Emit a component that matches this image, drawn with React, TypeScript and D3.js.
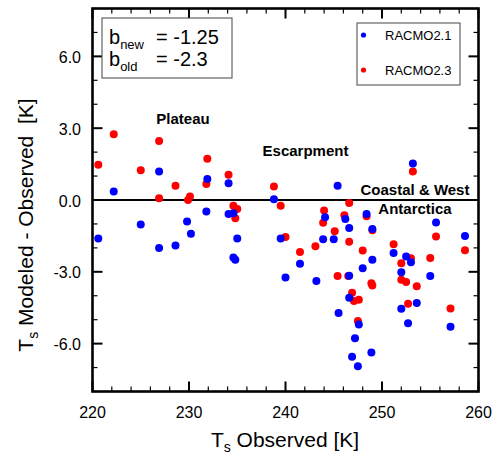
import React from "react";
import * as d3 from "d3";

const racmo21X = [220.6,222.2,225.0,226.9,226.9,228.6,229.8,230.2,231.9,231.8,234.1,234.1,234.6,235.0,234.6,234.8,238.8,239.5,241.5,240.0,243.2,244.1,243.9,245.0,245.4,246.2,246.6,246.6,248.4,249.0,248.0,249.0,246.6,245.5,247.6,247.2,246.9,248.9,247.5,251.2,252.5,253.0,252.0,252.0,253.6,252.7,253.2,255.0,255.6,258.6,257.1];
const racmo21Y = [-1.61,0.36,-1.02,1.19,-2.01,-1.90,-0.90,-1.41,0.88,-0.48,0.70,-0.59,-0.55,-1.61,-2.40,-2.50,0.03,-1.61,-2.66,-3.24,-3.38,-0.72,-1.64,-1.64,0.60,-0.79,-1.17,-3.16,-0.59,-1.21,-2.85,-2.50,-4.08,-4.72,-5.20,-5.78,-6.55,-6.37,-6.94,-2.21,-2.36,-2.60,-3.02,-4.54,-4.30,-5.15,1.53,-3.18,-0.94,-1.50,-5.30];

const racmo23X = [220.6,222.2,225.0,226.9,226.9,228.6,229.9,230.1,231.9,231.8,234.1,234.6,235.0,234.8,238.8,239.5,240.0,241.5,243.1,244.0,243.9,245.1,246.1,246.6,246.6,248.4,249.0,248.0,245.4,246.5,248.9,249.0,246.9,247.1,247.6,247.5,251.2,252.0,253.0,252.0,252.5,253.6,252.7,253.2,255.0,255.6,258.6,257.1];
const racmo23Y = [1.47,2.75,1.24,2.46,0.07,0.60,0.00,0.15,1.72,0.67,1.05,-0.24,-0.38,-0.76,0.56,-0.24,-1.55,-2.17,-1.93,-0.44,-0.95,-1.31,-0.64,-0.13,-1.74,-0.68,-1.26,-2.11,-3.17,-3.17,-3.48,-3.57,-3.87,-4.22,-4.17,-5.05,-1.85,-2.64,-2.43,-3.33,-3.43,-3.60,-4.33,1.19,-2.42,-1.52,-2.10,-4.53];

const xTickLabels = [220, 230, 240, 250, 260];
const yTickLabels = [-6, -3, 0, 3, 6];
const seriesNames = ["RACMO2.1", "RACMO2.3"];
const seriesColors = ["#0000ff", "#ff0000"];
const regionLabels = ["Plateau", "Escarpment", "Coastal & West", "Antarctica"];
const stats = [{ sub: "new", val: "= -1.25" }, { sub: "old", val: "= -2.3" }];

const FONT = "'Liberation Sans', Arial, Helvetica, sans-serif";

export default function App() {
  const x = d3.scaleLinear().domain([220, 260]).range([92.5, 478.5]);
  const y = d3.scaleLinear().domain([-8, 8]).range([391.5, 8.5]);
  const [x0, x1] = x.range();
  const [yb, yt] = y.range();

  const xMinor = d3.range(220, 260.01, 2);
  const yMinor = d3.range(-8, 8.01, 1);
  const isXMajor = (v: number) => Math.abs(v % 10) < 1e-6;
  const isYMajor = (v: number) => Math.abs(v % 3) < 1e-6;

  const red = racmo23X.map((v, i) => ({ x: v, y: racmo23Y[i] }));
  const blue = racmo21X.map((v, i) => ({ x: v, y: racmo21Y[i] }));

  return (
    <svg width={497} height={456} style={{ position: "absolute", left: 0, top: 0, background: "#fff" }} fontFamily={FONT}>
      <rect x={0} y={0} width={497} height={456} fill="#fff" />
      {/* zero line */}
      <line x1={x0} x2={x1} y1={y(0)} y2={y(0)} stroke="#000" strokeWidth={2.2} />
      {/* points */}
      {red.map((d, i) => (
        <circle key={"r" + i} cx={x(d.x)} cy={y(d.y)} r={4} fill={seriesColors[1]} />
      ))}
      {blue.map((d, i) => (
        <circle key={"b" + i} cx={x(d.x)} cy={y(d.y)} r={4} fill={seriesColors[0]} />
      ))}
      {/* ticks */}
      {xMinor.map((v) => {
        const L = isXMajor(v) ? 10 : 5;
        return (
          <g key={"xt" + v} stroke="#000" strokeWidth={1.5}>
            <line x1={x(v)} x2={x(v)} y1={yb} y2={yb - L} strokeWidth={isXMajor(v) ? 2 : 1.2} />
            <line x1={x(v)} x2={x(v)} y1={yt} y2={yt + L} strokeWidth={isXMajor(v) ? 2 : 1.2} />
          </g>
        );
      })}
      {yMinor.map((v) => {
        const L = isYMajor(v) ? 10 : 5;
        return (
          <g key={"yt" + v} stroke="#000">
            <line x1={x0} x2={x0 + L} y1={y(v)} y2={y(v)} strokeWidth={isYMajor(v) ? 2 : 1.2} />
            <line x1={x1} x2={x1 - L} y1={y(v)} y2={y(v)} strokeWidth={isYMajor(v) ? 2 : 1.2} />
          </g>
        );
      })}
      {/* frame */}
      <rect x={x0} y={yt} width={x1 - x0} height={yb - yt} fill="none" stroke="#000" strokeWidth={2.6} />
      {/* tick labels */}
      {xTickLabels.map((v) => (
        <text key={"xl" + v} x={x(v)} y={418} textAnchor="middle" fontSize={16} fill="#000">
          {v}
        </text>
      ))}
      {yTickLabels.map((v) => (
        <text key={"yl" + v} x={81} y={y(v) + 6.5} textAnchor="end" fontSize={16} fill="#000">
          {v.toFixed(1)}
        </text>
      ))}
      {/* axis titles */}
      <text x={285} y={447} textAnchor="middle" fontSize={21} fill="#000">
        T<tspan fontSize={14} dy={5}>s</tspan>
        <tspan dy={-5}> Observed [K]</tspan>
      </text>
      <text transform={`translate(33,225) rotate(-90)`} textAnchor="middle" fontSize={21} fill="#000">
        T<tspan fontSize={14} dy={5}>s</tspan>
        <tspan dy={-5} style={{ whiteSpace: "pre" }}> Modeled - Observed  [K]</tspan>
      </text>
      {/* stats box */}
      <rect x={102} y={18} width={130} height={60} fill="#fff" stroke="#444" strokeWidth={1} />
      {stats.map((s, i) => (
        <g key={"s" + i}>
          <text x={109} y={43.5 + i * 22} fontSize={20} fill="#000">
            b<tspan fontSize={13} dy={5}>{s.sub}</tspan>
          </text>
          <text x={156} y={43.5 + i * 22} fontSize={20} fill="#000">
            {s.val}
          </text>
        </g>
      ))}
      {/* legend */}
      <rect x={357} y={23} width={103} height={62} fill="#fff" stroke="#444" strokeWidth={1} />
      {seriesNames.map((n, i) => (
        <g key={"lg" + i}>
          <circle cx={363.5} cy={35 + i * 35} r={2.6} fill={seriesColors[i]} />
          <text x={385} y={40 + i * 35} fontSize={13} fill="#000">
            {n}
          </text>
        </g>
      ))}
      {/* region labels */}
      <text x={183} y={123.5} textAnchor="middle" fontSize={15} fontWeight="bold" fill="#000">{regionLabels[0]}</text>
      <text x={305.5} y={155.5} textAnchor="middle" fontSize={15} fontWeight="bold" fill="#000">{regionLabels[1]}</text>
      <text x={415} y={195} textAnchor="middle" fontSize={15} fontWeight="bold" fill="#000">{regionLabels[2]}</text>
      <text x={415} y={213.5} textAnchor="middle" fontSize={15} fontWeight="bold" fill="#000">{regionLabels[3]}</text>
    </svg>
  );
}
